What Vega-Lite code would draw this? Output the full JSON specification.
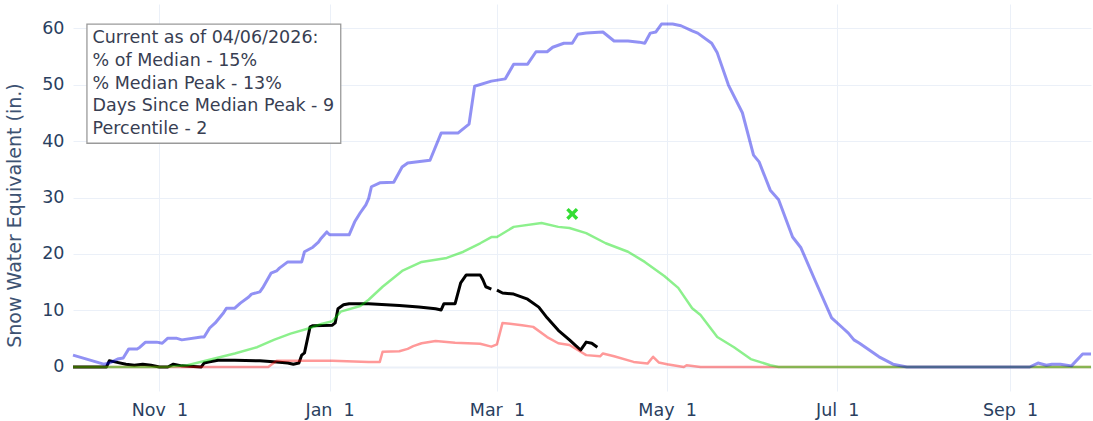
{
  "$schema": "https://vega.github.io/schema/vega-lite/v6.json",
  "width": 1018,
  "height": 387,
  "autosize": {"type": "none"},
  "padding": {"left": 73, "top": 4, "right": 2, "bottom": 30},
  "background": "white",
  "config": {"view": {"stroke": null}, "font": "DejaVu Sans"},
  "datasets": {
    "current": [
      {"date": "2023-10-01", "swe": 0}, {"date": "2023-10-13", "swe": 0}, {"date": "2023-10-14", "swe": 1.1},
      {"date": "2023-10-16", "swe": 0.9}, {"date": "2023-10-20", "swe": 0.5}, {"date": "2023-10-23", "swe": 0.3},
      {"date": "2023-10-26", "swe": 0.5}, {"date": "2023-10-29", "swe": 0.3}, {"date": "2023-11-01", "swe": 0},
      {"date": "2023-11-04", "swe": 0}, {"date": "2023-11-06", "swe": 0.5}, {"date": "2023-11-09", "swe": 0.2},
      {"date": "2023-11-16", "swe": 0}, {"date": "2023-11-17", "swe": 0.7}, {"date": "2023-11-19", "swe": 0.9},
      {"date": "2023-11-22", "swe": 1.2}, {"date": "2023-11-28", "swe": 1.2}, {"date": "2023-12-07", "swe": 1.1},
      {"date": "2023-12-13", "swe": 0.9}, {"date": "2023-12-17", "swe": 0.7}, {"date": "2023-12-19", "swe": 0.5},
      {"date": "2023-12-21", "swe": 0.7}, {"date": "2023-12-22", "swe": 2.1}, {"date": "2023-12-23", "swe": 2.5},
      {"date": "2023-12-25", "swe": 7.1}, {"date": "2023-12-26", "swe": 7.3}, {"date": "2024-01-02", "swe": 7.4},
      {"date": "2024-01-03", "swe": 7.8}, {"date": "2024-01-04", "swe": 10.3}, {"date": "2024-01-06", "swe": 11.0},
      {"date": "2024-01-08", "swe": 11.2}, {"date": "2024-01-15", "swe": 11.2}, {"date": "2024-01-26", "swe": 10.9},
      {"date": "2024-02-02", "swe": 10.6}, {"date": "2024-02-08", "swe": 10.3}, {"date": "2024-02-10", "swe": 10.1},
      {"date": "2024-02-11", "swe": 11.2}, {"date": "2024-02-15", "swe": 11.2}, {"date": "2024-02-17", "swe": 14.9},
      {"date": "2024-02-19", "swe": 16.3}, {"date": "2024-02-24", "swe": 16.3}, {"date": "2024-02-25", "swe": 15.4},
      {"date": "2024-02-26", "swe": 14.2}, {"date": "2024-02-28", "swe": 13.8}, {"date": "2024-02-29", "swe": null},
      {"date": "2024-03-01", "swe": 13.6}, {"date": "2024-03-03", "swe": 13.1}, {"date": "2024-03-07", "swe": 12.9},
      {"date": "2024-03-12", "swe": 12.0}, {"date": "2024-03-16", "swe": 10.6}, {"date": "2024-03-19", "swe": 8.7},
      {"date": "2024-03-23", "swe": 6.5}, {"date": "2024-03-27", "swe": 4.8}, {"date": "2024-03-31", "swe": 3.0},
      {"date": "2024-04-02", "swe": 4.4}, {"date": "2024-04-04", "swe": 4.2}, {"date": "2024-04-06", "swe": 3.5}
    ],
    "min": [
      {"date": "2023-10-01", "swe": 0}, {"date": "2023-12-10", "swe": 0}, {"date": "2023-12-13", "swe": 1.1},
      {"date": "2024-01-02", "swe": 1.1}, {"date": "2024-01-15", "swe": 0.9}, {"date": "2024-01-19", "swe": 0.9},
      {"date": "2024-01-20", "swe": 2.7}, {"date": "2024-01-26", "swe": 2.8}, {"date": "2024-01-29", "swe": 3.2},
      {"date": "2024-01-31", "swe": 3.7}, {"date": "2024-02-03", "swe": 4.2}, {"date": "2024-02-08", "swe": 4.6},
      {"date": "2024-02-15", "swe": 4.3}, {"date": "2024-02-24", "swe": 4.1}, {"date": "2024-02-28", "swe": 3.6},
      {"date": "2024-03-01", "swe": 4.0}, {"date": "2024-03-03", "swe": 7.8}, {"date": "2024-03-10", "swe": 7.4},
      {"date": "2024-03-14", "swe": 7.1}, {"date": "2024-03-19", "swe": 5.3}, {"date": "2024-03-23", "swe": 4.2},
      {"date": "2024-03-27", "swe": 3.9}, {"date": "2024-03-31", "swe": 2.7}, {"date": "2024-04-02", "swe": 2.1},
      {"date": "2024-04-07", "swe": 1.9}, {"date": "2024-04-08", "swe": 2.4}, {"date": "2024-04-12", "swe": 1.9},
      {"date": "2024-04-19", "swe": 0.9}, {"date": "2024-04-24", "swe": 0.6}, {"date": "2024-04-26", "swe": 1.8},
      {"date": "2024-04-28", "swe": 0.8}, {"date": "2024-05-01", "swe": 0.5}, {"date": "2024-05-07", "swe": 0},
      {"date": "2024-05-08", "swe": 0.3}, {"date": "2024-05-13", "swe": 0}, {"date": "2024-09-30", "swe": 0}
    ],
    "median": [
      {"date": "2023-10-01", "swe": 0}, {"date": "2023-11-03", "swe": 0}, {"date": "2023-11-11", "swe": 0.3},
      {"date": "2023-11-20", "swe": 1.4}, {"date": "2023-11-28", "swe": 2.4}, {"date": "2023-12-06", "swe": 3.5},
      {"date": "2023-12-12", "swe": 4.8}, {"date": "2023-12-18", "swe": 5.9}, {"date": "2023-12-25", "swe": 6.9},
      {"date": "2023-12-29", "swe": 7.6}, {"date": "2024-01-02", "swe": 8.1}, {"date": "2024-01-05", "swe": 9.8},
      {"date": "2024-01-12", "swe": 10.8}, {"date": "2024-01-15", "swe": 11.9}, {"date": "2024-01-20", "swe": 14.2},
      {"date": "2024-01-27", "swe": 17.0}, {"date": "2024-02-03", "swe": 18.6}, {"date": "2024-02-12", "swe": 19.3},
      {"date": "2024-02-18", "swe": 20.4}, {"date": "2024-02-24", "swe": 21.9}, {"date": "2024-02-28", "swe": 23.0},
      {"date": "2024-03-01", "swe": 23.0}, {"date": "2024-03-07", "swe": 24.8}, {"date": "2024-03-17", "swe": 25.5},
      {"date": "2024-03-23", "swe": 24.8}, {"date": "2024-03-27", "swe": 24.6}, {"date": "2024-04-02", "swe": 23.7},
      {"date": "2024-04-09", "swe": 21.9}, {"date": "2024-04-17", "swe": 20.4}, {"date": "2024-04-23", "swe": 18.6},
      {"date": "2024-04-30", "swe": 16.1}, {"date": "2024-05-05", "swe": 14.0}, {"date": "2024-05-10", "swe": 10.4},
      {"date": "2024-05-13", "swe": 9.2}, {"date": "2024-05-19", "swe": 5.3}, {"date": "2024-05-25", "swe": 3.5},
      {"date": "2024-05-31", "swe": 1.4}, {"date": "2024-06-07", "swe": 0.3}, {"date": "2024-06-10", "swe": 0},
      {"date": "2024-09-30", "swe": 0}
    ],
    "max": [
      {"date": "2023-10-01", "swe": 2.1}, {"date": "2023-10-12", "swe": 0.5}, {"date": "2023-10-14", "swe": 0.7},
      {"date": "2023-10-17", "swe": 1.4}, {"date": "2023-10-19", "swe": 1.6}, {"date": "2023-10-21", "swe": 3.2},
      {"date": "2023-10-24", "swe": 3.2}, {"date": "2023-10-25", "swe": 3.5}, {"date": "2023-10-27", "swe": 4.4},
      {"date": "2023-10-31", "swe": 4.4}, {"date": "2023-11-02", "swe": 4.2}, {"date": "2023-11-04", "swe": 5.1},
      {"date": "2023-11-07", "swe": 5.1}, {"date": "2023-11-09", "swe": 4.8}, {"date": "2023-11-16", "swe": 5.3},
      {"date": "2023-11-17", "swe": 5.3}, {"date": "2023-11-19", "swe": 6.9}, {"date": "2023-11-21", "swe": 7.8},
      {"date": "2023-11-24", "swe": 9.6}, {"date": "2023-11-25", "swe": 10.4}, {"date": "2023-11-28", "swe": 10.4},
      {"date": "2023-11-30", "swe": 11.3}, {"date": "2023-12-03", "swe": 12.4}, {"date": "2023-12-04", "swe": 12.9},
      {"date": "2023-12-07", "swe": 13.3}, {"date": "2023-12-08", "swe": 14.0}, {"date": "2023-12-11", "swe": 16.6},
      {"date": "2023-12-13", "swe": 17.0}, {"date": "2023-12-14", "swe": 17.5}, {"date": "2023-12-17", "swe": 18.6},
      {"date": "2023-12-22", "swe": 18.6}, {"date": "2023-12-23", "swe": 20.4}, {"date": "2023-12-26", "swe": 21.2},
      {"date": "2023-12-28", "swe": 22.1}, {"date": "2023-12-29", "swe": 22.8}, {"date": "2023-12-31", "swe": 23.9},
      {"date": "2024-01-01", "swe": 23.4}, {"date": "2024-01-08", "swe": 23.4}, {"date": "2024-01-10", "swe": 25.7},
      {"date": "2024-01-12", "swe": 27.3}, {"date": "2024-01-14", "swe": 28.7}, {"date": "2024-01-15", "swe": 29.8},
      {"date": "2024-01-16", "swe": 31.9}, {"date": "2024-01-19", "swe": 32.6}, {"date": "2024-01-24", "swe": 32.7},
      {"date": "2024-01-27", "swe": 35.4}, {"date": "2024-01-29", "swe": 36.1}, {"date": "2024-02-06", "swe": 36.6},
      {"date": "2024-02-10", "swe": 41.4}, {"date": "2024-02-16", "swe": 41.4}, {"date": "2024-02-20", "swe": 43.0},
      {"date": "2024-02-22", "swe": 49.7}, {"date": "2024-02-28", "swe": 50.6}, {"date": "2024-03-04", "swe": 51.0},
      {"date": "2024-03-07", "swe": 53.6}, {"date": "2024-03-12", "swe": 53.6}, {"date": "2024-03-15", "swe": 55.8},
      {"date": "2024-03-19", "swe": 55.8}, {"date": "2024-03-21", "swe": 56.6}, {"date": "2024-03-25", "swe": 57.3},
      {"date": "2024-03-28", "swe": 57.3}, {"date": "2024-03-30", "swe": 58.9}, {"date": "2024-04-02", "swe": 59.1},
      {"date": "2024-04-08", "swe": 59.3}, {"date": "2024-04-12", "swe": 57.7}, {"date": "2024-04-17", "swe": 57.7},
      {"date": "2024-04-21", "swe": 57.5}, {"date": "2024-04-23", "swe": 57.3}, {"date": "2024-04-25", "swe": 59.1},
      {"date": "2024-04-27", "swe": 59.3}, {"date": "2024-04-29", "swe": 60.7}, {"date": "2024-05-03", "swe": 60.7},
      {"date": "2024-05-06", "swe": 60.4}, {"date": "2024-05-10", "swe": 59.5}, {"date": "2024-05-12", "swe": 59.1},
      {"date": "2024-05-17", "swe": 57.3}, {"date": "2024-05-19", "swe": 55.6}, {"date": "2024-05-23", "swe": 49.9},
      {"date": "2024-05-28", "swe": 45.0}, {"date": "2024-06-01", "swe": 37.5}, {"date": "2024-06-03", "swe": 36.3},
      {"date": "2024-06-07", "swe": 31.3}, {"date": "2024-06-10", "swe": 29.6}, {"date": "2024-06-15", "swe": 23.0},
      {"date": "2024-06-18", "swe": 21.1}, {"date": "2024-06-23", "swe": 15.4}, {"date": "2024-06-29", "swe": 8.7},
      {"date": "2024-07-03", "swe": 6.9}, {"date": "2024-07-05", "swe": 6.0}, {"date": "2024-07-07", "swe": 4.8},
      {"date": "2024-07-09", "swe": 4.2}, {"date": "2024-07-16", "swe": 1.8}, {"date": "2024-07-21", "swe": 0.5},
      {"date": "2024-07-26", "swe": 0}, {"date": "2024-09-08", "swe": 0}, {"date": "2024-09-11", "swe": 0.7},
      {"date": "2024-09-14", "swe": 0.3}, {"date": "2024-09-16", "swe": 0.5}, {"date": "2024-09-19", "swe": 0.5},
      {"date": "2024-09-23", "swe": 0.2}, {"date": "2024-09-27", "swe": 2.3}, {"date": "2024-09-30", "swe": 2.3}
    ],
    "peak": [{"date": "2024-03-28", "swe": 27.1}],
    "note": [{"text": "Current as of 04/06/2026:\n% of Median - 15%\n% Median Peak - 13%\nDays Since Median Peak - 9\nPercentile - 2"}]
  },
  "layer": [
    {
      "data": {"name": "current"},
      "mark": {"type": "line", "stroke": "#000000", "strokeWidth": 3, "strokeJoin": "round", "invalid": "break-paths-filter-domains"},
      "encoding": {
        "x": {
          "field": "date", "type": "temporal",
          "scale": {"domain": [{"year": 2023, "month": 10, "date": 1}, {"year": 2024, "month": 9, "date": 30}]},
          "axis": {
            "title": null,
            "values": [
              {"year": 2023, "month": 11, "date": 1}, {"year": 2024, "month": 1, "date": 1},
              {"year": 2024, "month": 3, "date": 1}, {"year": 2024, "month": 5, "date": 1},
              {"year": 2024, "month": 7, "date": 1}, {"year": 2024, "month": 9, "date": 1}
            ],
            "labelExpr": "timeFormat(datum.value, '%b') + '\u00a0\u00a0' + timeFormat(datum.value, '%-d')",
            "grid": true, "gridColor": "#EBF0F8", "gridWidth": 1,
            "domain": false, "ticks": false,
            "labelFont": "DejaVu Sans", "labelFontSize": 17.5, "labelColor": "#2a3f5f", "labelPadding": 10
          }
        },
        "y": {
          "field": "swe", "type": "quantitative",
          "scale": {"domain": [-4.25, 64.25], "nice": false, "zero": false},
          "axis": {
            "title": "Snow Water Equivalent (in.)",
            "values": [0, 10, 20, 30, 40, 50, 60],
            "grid": true, "gridColor": "#EBF0F8",
            "gridWidth": {"condition": {"test": "datum.value === 0", "value": 2}, "value": 1},
            "domain": false, "ticks": false,
            "labelFont": "DejaVu Sans", "labelFontSize": 17.5, "labelColor": "#2a3f5f", "labelPadding": 9,
            "titleFont": "DejaVu Sans", "titleFontSize": 19, "titleFontWeight": "normal", "titleColor": "#3d5272",
            "titleX": -59, "titleY": 211, "titleAngle": 270, "titleAlign": "center", "titleBaseline": "middle"
          }
        }
      }
    },
    {
      "data": {"name": "min"},
      "mark": {"type": "line", "stroke": "#ff0000", "strokeOpacity": 0.4, "strokeWidth": 2.5, "strokeJoin": "round"},
      "encoding": {"x": {"field": "date", "type": "temporal"}, "y": {"field": "swe", "type": "quantitative"}}
    },
    {
      "data": {"name": "median"},
      "mark": {"type": "line", "stroke": "#00dd00", "strokeOpacity": 0.45, "strokeWidth": 2.5, "strokeJoin": "round"},
      "encoding": {"x": {"field": "date", "type": "temporal"}, "y": {"field": "swe", "type": "quantitative"}}
    },
    {
      "data": {"name": "max"},
      "mark": {"type": "line", "stroke": "#0000e6", "strokeOpacity": 0.43, "strokeWidth": 3, "strokeJoin": "round"},
      "encoding": {"x": {"field": "date", "type": "temporal"}, "y": {"field": "swe", "type": "quantitative"}}
    },
    {
      "data": {"name": "peak"},
      "mark": {"type": "point", "shape": "M-1,-0.6L-0.6,-1L0,-0.4L0.6,-1L1,-0.6L0.4,0L1,0.6L0.6,1L0,0.4L-0.6,1L-1,0.6L-0.4,0Z", "filled": true, "fill": "#33dd33", "opacity": 1, "strokeWidth": 0, "size": 144},
      "encoding": {"x": {"field": "date", "type": "temporal"}, "y": {"field": "swe", "type": "quantitative"}}
    },
    {
      "data": {"name": "note"},
      "mark": {"type": "rect", "fill": "#ffffff", "stroke": "#9a9a9a", "strokeWidth": 1.3},
      "encoding": {
        "x": {"datum": {"year": 2023, "month": 10, "date": 6}, "type": "temporal"},
        "x2": {"datum": {"year": 2024, "month": 1, "date": 5}},
        "y": {"datum": 60.7, "type": "quantitative"},
        "y2": {"datum": 39.6}
      }
    },
    {
      "data": {"name": "note"},
      "mark": {"type": "text", "align": "left", "baseline": "middle", "font": "DejaVu Sans", "fontSize": 17.5, "lineHeight": 22.7, "lineBreak": "\n", "color": "#383e52"},
      "encoding": {
        "x": {"datum": {"year": 2023, "month": 10, "date": 8}, "type": "temporal"},
        "y": {"datum": 58.2, "type": "quantitative"},
        "text": {"field": "text", "type": "nominal"}
      }
    }
  ]
}
